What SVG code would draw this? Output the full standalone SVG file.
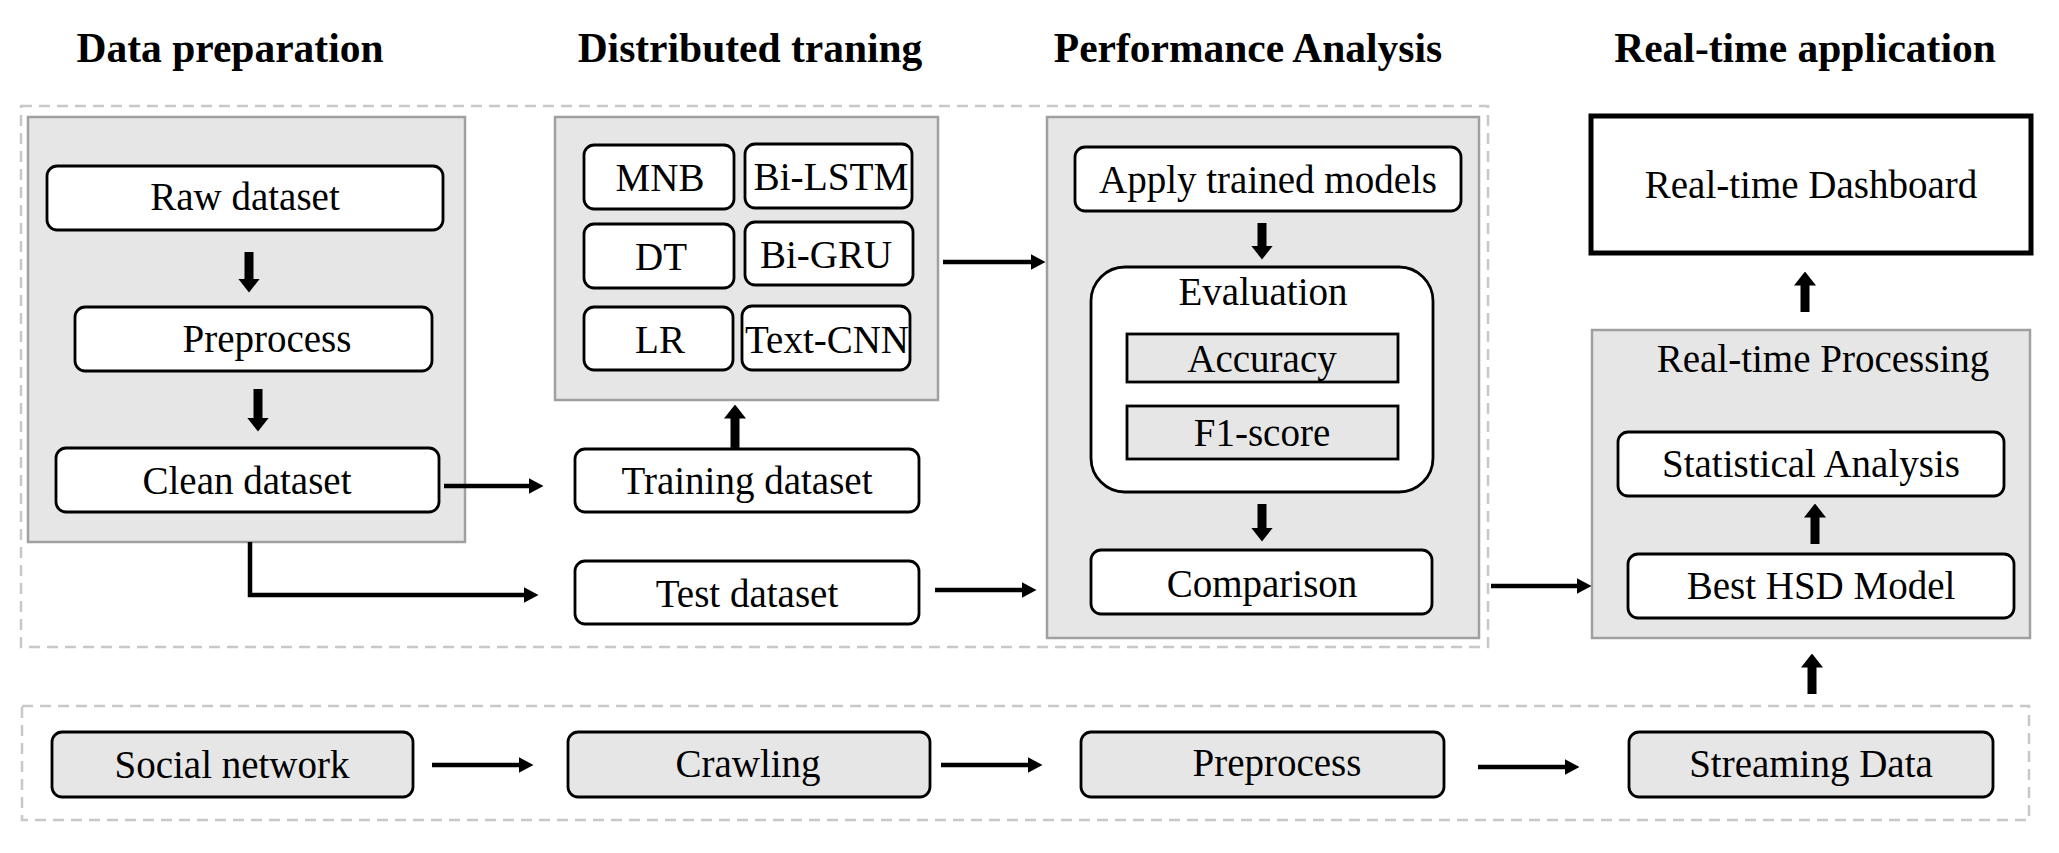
<svg xmlns="http://www.w3.org/2000/svg" width="2059" height="853" viewBox="0 0 2059 853">
<defs>
<style>
text{font-family:"Liberation Serif","Times New Roman",serif;fill:#000;text-anchor:middle}
.title{font-size:41.5px;font-weight:bold}
.t{font-size:39px}
.dash{fill:none;stroke:#c8c8c8;stroke-width:2.5;stroke-dasharray:11 7}
.panel{fill:#e6e6e6;stroke:#a0a0a0;stroke-width:2.5}
.wbox{fill:#fff;stroke:#000;stroke-width:2.8}
.gbox{fill:#e6e6e6;stroke:#000;stroke-width:2.8}
.thin{fill:none;stroke:#000;stroke-width:4.5}
.thick{fill:none;stroke:#000;stroke-width:9}
</style>
<marker id="ah" markerUnits="userSpaceOnUse" viewBox="0 0 15 16" markerWidth="15" markerHeight="16" refX="0.5" refY="8" orient="auto"><path d="M0,0 L15,8 L0,16 z" fill="#000"/></marker>
<marker id="bh" markerUnits="userSpaceOnUse" viewBox="0 0 14 22" markerWidth="14" markerHeight="22" refX="0.5" refY="11" orient="auto"><path d="M0,0 L14,11 L0,22 z" fill="#000"/></marker>
</defs>
<rect width="2059" height="853" fill="#fff"/>

<g id="titles">
<text class="title" x="230" y="62">Data preparation</text>
<text class="title" x="750" y="62">Distributed traning</text>
<text class="title" x="1248" y="62">Performance Analysis</text>
<text class="title" x="1805" y="62">Real-time application</text>
</g>

<g id="frames">
<rect class="dash" x="21" y="106" width="1467" height="541"/>
<rect class="dash" x="22" y="706" width="2007" height="114"/>
</g>

<g id="data-preparation">
<rect class="panel" x="28" y="117" width="437" height="425"/>
<g id="raw-dataset"><rect class="wbox" x="47" y="166" width="396" height="64" rx="10"/><text class="t" x="245" y="210">Raw dataset</text></g>
<g id="preprocess-top"><rect class="wbox" x="75" y="307" width="357" height="64" rx="10"/><text class="t" x="267" y="352">Preprocess</text></g>
<g id="clean-dataset"><rect class="wbox" x="56" y="448" width="383" height="64" rx="10"/><text class="t" x="247" y="494">Clean dataset</text></g>
</g>

<g id="distributed-training">
<rect class="panel" x="555" y="117" width="383" height="283"/>
<g id="mnb"><rect class="wbox" x="584" y="145" width="150" height="64" rx="10"/><text class="t" x="660" y="191">MNB</text></g>
<g id="bi-lstm"><rect class="wbox" x="745" y="144" width="167" height="64" rx="10"/><text class="t" x="831" y="190" textLength="155" lengthAdjust="spacingAndGlyphs">Bi-LSTM</text></g>
<g id="dt"><rect class="wbox" x="584" y="224" width="150" height="64" rx="10"/><text class="t" x="661" y="270">DT</text></g>
<g id="bi-gru"><rect class="wbox" x="745" y="222" width="168" height="63" rx="10"/><text class="t" x="826" y="268">Bi-GRU</text></g>
<g id="lr"><rect class="wbox" x="584" y="307" width="149" height="63" rx="10"/><text class="t" x="660" y="353">LR</text></g>
<g id="text-cnn"><rect class="wbox" x="742" y="306" width="168" height="64" rx="10"/><text class="t" x="827" y="353" textLength="164" lengthAdjust="spacingAndGlyphs">Text-CNN</text></g>
</g>

<g id="training-dataset"><rect class="wbox" x="575" y="449" width="344" height="63" rx="10"/><text class="t" x="747" y="494">Training dataset</text></g>
<g id="test-dataset"><rect class="wbox" x="575" y="561" width="344" height="63" rx="10"/><text class="t" x="747" y="607">Test dataset</text></g>

<g id="performance-analysis">
<rect class="panel" x="1047" y="117" width="432" height="521"/>
<g id="apply-models"><rect class="wbox" x="1075" y="147" width="386" height="64" rx="10"/><text class="t" x="1268" y="193">Apply trained models</text></g>
<g id="evaluation">
<rect class="wbox" x="1091" y="267" width="342" height="225" rx="34"/>
<text class="t" x="1263" y="305">Evaluation</text>
<rect class="gbox" x="1127" y="334" width="271" height="48"/>
<text class="t" x="1262" y="372">Accuracy</text>
<rect class="gbox" x="1127" y="406" width="271" height="53"/>
<text class="t" x="1262" y="446">F1-score</text>
</g>
<g id="comparison"><rect class="wbox" x="1091" y="550" width="341" height="64" rx="10"/><text class="t" x="1262" y="597">Comparison</text></g>
</g>

<g id="real-time-dashboard"><rect x="1591" y="116" width="440" height="137" fill="#fff" stroke="#000" stroke-width="5"/><text class="t" x="1811" y="198">Real-time Dashboard</text></g>

<g id="real-time-processing">
<rect class="panel" x="1592" y="330" width="438" height="308"/>
<text class="t" x="1823" y="372">Real-time Processing</text>
<g id="statistical-analysis"><rect class="wbox" x="1618" y="432" width="386" height="64" rx="10"/><text class="t" x="1811" y="477">Statistical Analysis</text></g>
<g id="best-hsd-model"><rect class="wbox" x="1628" y="554" width="386" height="64" rx="10"/><text class="t" x="1821" y="599">Best HSD Model</text></g>
</g>

<g id="social-network"><rect class="gbox" x="52" y="732" width="361" height="65" rx="10"/><text class="t" x="232" y="778">Social network</text></g>
<g id="crawling"><rect class="gbox" x="568" y="732" width="362" height="65" rx="10"/><text class="t" x="748" y="777">Crawling</text></g>
<g id="preprocess-bottom"><rect class="gbox" x="1081" y="732" width="363" height="65" rx="10"/><text class="t" x="1277" y="776">Preprocess</text></g>
<g id="streaming-data"><rect class="gbox" x="1629" y="732" width="364" height="65" rx="10"/><text class="t" x="1811" y="777">Streaming Data</text></g>

<g id="connectors">
<line class="thick" x1="249" y1="252" x2="249" y2="279" marker-end="url(#bh)"/>
<line class="thick" x1="258" y1="389" x2="258" y2="418" marker-end="url(#bh)"/>
<line class="thin" x1="444" y1="486" x2="529" y2="486" marker-end="url(#ah)"/>
<line class="thick" x1="735" y1="449" x2="735" y2="418" marker-end="url(#bh)"/>
<polyline class="thin" points="250,542 250,595 524,595" marker-end="url(#ah)"/>
<line class="thin" x1="943" y1="262" x2="1031" y2="262" marker-end="url(#ah)"/>
<line class="thin" x1="935" y1="590" x2="1022" y2="590" marker-end="url(#ah)"/>
<line class="thick" x1="1262" y1="223" x2="1262" y2="246" marker-end="url(#bh)"/>
<line class="thick" x1="1262" y1="504" x2="1262" y2="528" marker-end="url(#bh)"/>
<line class="thin" x1="1491" y1="586" x2="1577" y2="586" marker-end="url(#ah)"/>
<line class="thick" x1="1815" y1="544" x2="1815" y2="517" marker-end="url(#bh)"/>
<line class="thick" x1="1805" y1="312" x2="1805" y2="285" marker-end="url(#bh)"/>
<line class="thick" x1="1812" y1="694" x2="1812" y2="667" marker-end="url(#bh)"/>
<line class="thin" x1="432" y1="765" x2="519" y2="765" marker-end="url(#ah)"/>
<line class="thin" x1="941" y1="765" x2="1028" y2="765" marker-end="url(#ah)"/>
<line class="thin" x1="1478" y1="767" x2="1565" y2="767" marker-end="url(#ah)"/>
</g>
</svg>
